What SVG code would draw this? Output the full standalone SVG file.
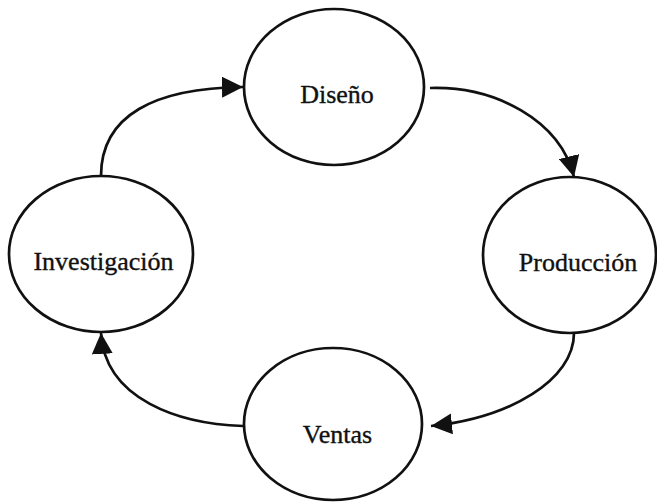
<svg xmlns="http://www.w3.org/2000/svg" width="657" height="502" viewBox="0 0 657 502">
  <defs>
    <marker id="arrow" markerUnits="userSpaceOnUse" markerWidth="22" markerHeight="21" refX="21" refY="10.5" orient="auto">
      <path d="M0,0 L21,10.5 L0,21 Z" fill="#111"/>
    </marker>
    <style>
      .node ellipse { fill: #fff; stroke: #111; stroke-width: 2.7; }
      .node text { font-family: "Liberation Serif", "Times New Roman", serif; font-size: 26px; fill: #111; stroke: #111; stroke-width: 0.35; text-anchor: middle; }
      .edges path { fill: none; stroke: #111; stroke-width: 2.7; marker-end: url(#arrow); }
    </style>
  </defs>
  <rect width="657" height="502" fill="#fff"/>

  <g class="edges" id="connectors">
    <path d="M101,176 C101,115 155,88 243,87"/>
    <path d="M430,88 C495,86 560,120 574,177"/>
    <path d="M574,333 C574,380 510,418 431,426"/>
    <path d="M243,426 C180,424 105,400 101,333"/>
  </g>

  <g class="node" id="diseno">
    <ellipse cx="334" cy="87" rx="90" ry="78"/>
    <text x="337" y="103">Diseño</text>
  </g>
  <g class="node" id="produccion">
    <ellipse cx="569.5" cy="255" rx="86.5" ry="78"/>
    <text x="578" y="271">Producción</text>
  </g>
  <g class="node" id="ventas">
    <ellipse cx="333" cy="424" rx="89" ry="76"/>
    <text x="337.5" y="443">Ventas</text>
  </g>
  <g class="node" id="investigacion">
    <ellipse cx="101" cy="254" rx="92" ry="78"/>
    <text x="103.5" y="270">Investigación</text>
  </g>
</svg>
